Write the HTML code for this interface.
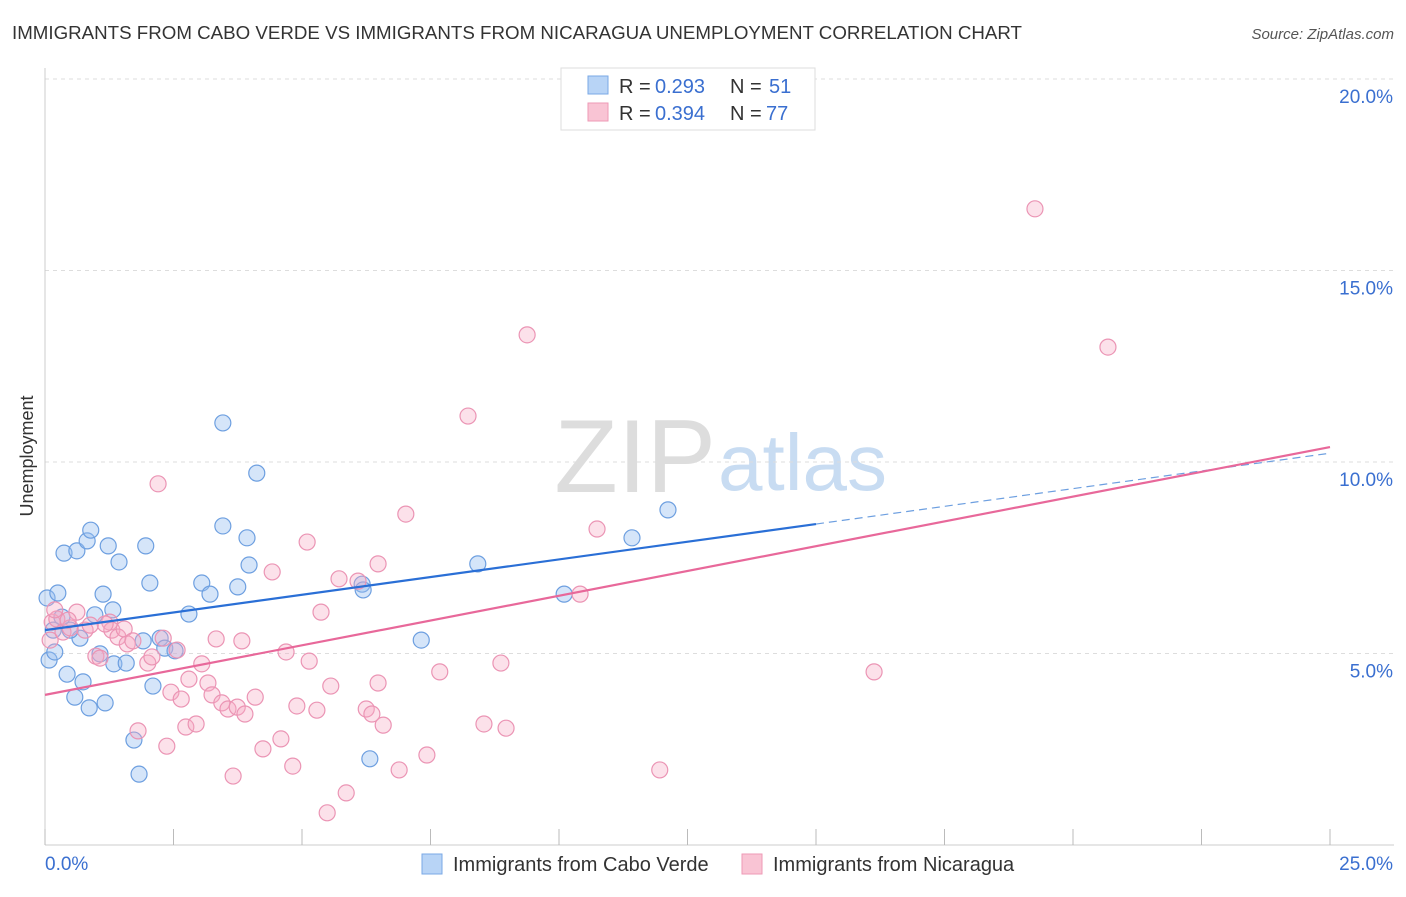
<!DOCTYPE html>
<html><head><meta charset="utf-8"><style>
body{margin:0;background:#fff;font-family:"Liberation Sans",sans-serif;}
svg text{font-family:"Liberation Sans",sans-serif;}
</style></head><body>
<svg id="c" width="1406" height="892" xmlns="http://www.w3.org/2000/svg">
<text x="12" y="39" font-size="18" fill="#333" textLength="1010" lengthAdjust="spacingAndGlyphs">IMMIGRANTS FROM CABO VERDE VS IMMIGRANTS FROM NICARAGUA UNEMPLOYMENT CORRELATION CHART</text>
<text x="1394" y="39" font-size="15" fill="#555" font-style="italic" text-anchor="end">Source: ZipAtlas.com</text>
<text transform="translate(33,456) rotate(-90)" font-size="18" fill="#333" text-anchor="middle">Unemployment</text>
<text x="716" y="492" font-size="104" fill="#ddd" font-family="Liberation Serif" text-anchor="end">ZIP</text>
<text x="718" y="490" font-size="80" fill="#c8dcf2">atlas</text>
<g id="grid"></g><g id="marks"></g>
<g>
<rect x="561" y="68" width="254" height="62" fill="#fff" stroke="#ddd"/>
<rect x="588" y="76" width="20" height="18" fill="#b8d4f6" stroke="#7aa8e6"/>
<rect x="588" y="103" width="20" height="18" fill="#f9c4d4" stroke="#ee9ab6"/>
<text x="619" y="93" font-size="20" fill="#333">R =</text>
<text x="655" y="93" font-size="20" fill="#3a6fd0">0.293</text>
<text x="730" y="93" font-size="20" fill="#333">N =</text>
<text x="769" y="93" font-size="20" fill="#3a6fd0">51</text>
<text x="619" y="120" font-size="20" fill="#333">R =</text>
<text x="655" y="120" font-size="20" fill="#3a6fd0">0.394</text>
<text x="730" y="120" font-size="20" fill="#333">N =</text>
<text x="766" y="120" font-size="20" fill="#3a6fd0">77</text>
</g>
<g>
<rect x="422" y="854" width="20" height="20" fill="#b8d4f6" stroke="#7aa8e6"/>
<text x="453" y="871" font-size="20" fill="#333">Immigrants from Cabo Verde</text>
<rect x="742" y="854" width="20" height="20" fill="#f9c4d4" stroke="#ee9ab6"/>
<text x="773" y="871" font-size="20" fill="#333">Immigrants from Nicaragua</text>
</g>
</svg>
<script>
const yTicks=[5,10,15,20];
const xTickLabels=["0.0%","25.0%"];
const blueX=[0.04,0.25,0.08,0.19,0.43,0.58,0.74,0.86,1.17,0.37,0.62,0.82,0.89,1.23,1.44,1.13,1.32,0.97,0.68,0.49,0.33,1.07,1.34,1.58,1.73,1.83,1.96,2.04,1.91,2.24,2.33,2.53,2.10,2.80,3.05,3.21,3.46,3.46,3.75,3.93,3.97,4.12,6.17,6.19,7.32,8.42,6.32,10.10,11.42,12.12,0.16];
const blueY=[6.45,6.58,4.83,5.04,4.46,3.86,4.26,3.58,3.71,7.62,7.68,7.94,8.22,7.81,7.39,6.55,6.14,6.01,5.40,5.61,5.95,4.99,4.73,4.75,2.74,1.85,7.81,6.84,5.33,5.40,5.14,5.07,4.15,6.03,6.84,6.55,11.02,8.33,6.74,8.02,7.31,9.71,6.81,6.66,5.35,7.34,2.25,6.55,8.02,8.75,5.61];
const pinkX=[0.14,0.23,0.10,0.35,0.49,0.62,0.45,0.78,0.99,1.07,1.26,1.30,1.42,1.54,1.60,1.71,2.00,2.08,2.20,2.30,2.45,2.57,2.65,2.74,2.37,2.80,2.94,3.05,3.17,3.25,3.33,3.44,3.56,3.66,3.74,3.83,3.89,4.09,4.24,4.42,4.59,4.69,4.82,4.90,5.10,5.14,5.29,5.37,5.49,5.56,5.72,5.86,6.09,6.25,6.36,6.48,6.48,6.58,6.89,7.02,7.43,7.68,8.23,8.54,8.87,8.97,9.38,10.41,10.74,11.96,16.13,19.26,20.68,1.81,1.17,0.88,0.19];
const pinkY=[5.82,5.90,5.35,5.56,5.67,6.08,5.87,5.61,4.93,4.88,5.82,5.61,5.43,5.64,5.25,5.33,4.75,4.91,9.43,5.40,3.99,5.09,3.81,3.08,2.58,4.33,3.16,4.73,4.23,3.92,5.38,3.71,3.55,1.80,3.60,5.33,3.42,3.86,2.51,7.13,2.77,5.04,2.06,3.63,7.91,4.80,3.52,6.08,0.84,4.15,6.95,1.36,6.89,3.55,3.42,4.23,7.34,3.13,1.96,8.64,2.35,4.52,11.20,3.16,4.75,3.05,13.32,6.55,8.25,1.96,4.52,16.61,13.00,2.98,5.77,5.74,6.14];
const blueTrend=[5.61,8.38,10.23]; // at x=0, 15, 25
const pinkTrend=[3.92,10.39]; // at x=0, 25
const X=v=>45+v*51.4, Y=v=>845-v*38.3;
const NS="http://www.w3.org/2000/svg";
function mk(t,a,p){const e=document.createElementNS(NS,t);for(const k in a)e.setAttribute(k,a[k]);p.appendChild(e);return e;}
const g=document.getElementById('grid'), m=document.getElementById('marks');
yTicks.forEach(t=>{
 const l=mk('line',{x1:45,x2:1394,y1:Y(t),y2:Y(t),stroke:'#ddd','stroke-dasharray':'4,4'},g);
 
 
 const tx=mk('text',{x:1393,y:Y(t)+24,'font-size':19,fill:'#3a6fd0','text-anchor':'end'},g);tx.textContent=t.toFixed(1)+'%';
 
 
});
const ax=mk('line',{x1:45,x2:1394,y1:845,y2:845,stroke:'#ccc'},g);


const ay=mk('line',{x1:45,x2:45,y1:68,y2:845,stroke:'#ccc'},g);


for(let i=0;i<=10;i++){const t=mk('line',{x1:X(i*2.5),x2:X(i*2.5),y1:829,y2:845,stroke:'#bbb'},g);
 
 }
const l0=mk('text',{x:45,y:870,'font-size':19,fill:'#3a6fd0'},g);l0.textContent=xTickLabels[0];


const l1=mk('text',{x:1393,y:870,'font-size':19,fill:'#3a6fd0','text-anchor':'end'},g);l1.textContent=xTickLabels[1];


blueX.forEach((x,i)=>{const c=mk('circle',{cx:X(x),cy:Y(blueY[i]),r:8,fill:'rgba(150,190,240,0.4)',stroke:'#6d9fe0','stroke-width':1.2},m);
 
 });
pinkX.forEach((x,i)=>{const c=mk('circle',{cx:X(x),cy:Y(pinkY[i]),r:8,fill:'rgba(245,170,195,0.35)',stroke:'#eb94b4','stroke-width':1.2},m);
 
 });
const b1=mk('line',{x1:X(0),y1:Y(blueTrend[0]),x2:X(15),y2:Y(blueTrend[1]),stroke:'#2a6fd6','stroke-width':2.2},m);


const b2=mk('line',{x1:X(15),y1:Y(blueTrend[1]),x2:X(25),y2:Y(blueTrend[2]),stroke:'#6d9fe0','stroke-width':1.2,'stroke-dasharray':'8,5'},m);


const p1=mk('line',{x1:X(0),y1:Y(pinkTrend[0]),x2:X(25),y2:Y(pinkTrend[1]),stroke:'#e8689a','stroke-width':2.2},m);


</script>
</body></html>
